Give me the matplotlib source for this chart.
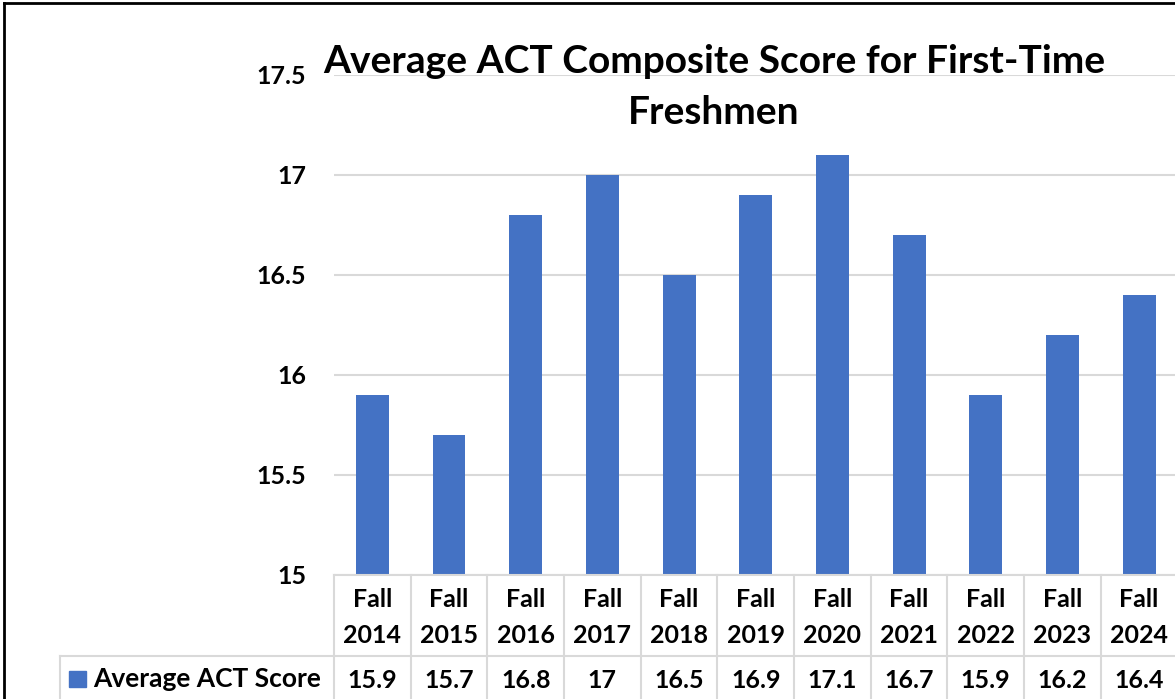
import matplotlib
matplotlib.use("Agg")
import matplotlib.pyplot as plt
from matplotlib.lines import Line2D
from matplotlib.patches import Rectangle
import matplotlib.transforms as mtransforms

# data
years = ["2014", "2015", "2016", "2017", "2018", "2019", "2020", "2021", "2022", "2023", "2024"]
scores = [15.9, 15.7, 16.8, 17.0, 16.5, 16.9, 17.1, 16.7, 15.9, 16.2, 16.4]
score_labels = ["15.9", "15.7", "16.8", "17", "16.5", "16.9", "17.1", "16.7", "15.9", "16.2", "16.4"]
series_name = "Average ACT Score"
yticks = [15, 15.5, 16, 16.5, 17, 17.5]
ytick_labels = ["15", "15.5", "16", "16.5", "17", "17.5"]
title_lines = ["Average ACT Composite Score for First-Time", "Freshmen"]

bar_color = "#4472C4"
grid_color = "#D9D9D9"
plt.rcParams["font.family"] = ["Lato", "DejaVu Sans"]
plt.rcParams["font.weight"] = "bold"

W, H = 1175, 699
fig = plt.figure(figsize=(W / 100, H / 100), dpi=100)

def fy(py):
    return (H - py) / H

x_left, x_right = 334, 1177.4
y_bot, y_top = 575, 75
ax = fig.add_axes([x_left / W, fy(y_bot), (x_right - x_left) / W, (y_bot - y_top) / H])

n = len(years)
xs = list(range(n))
ax.bar(xs, scores, width=0.43, color=bar_color, zorder=3)
ax.set_xlim(-0.5, n - 0.5)
ax.set_ylim(15, 17.5)
ax.set_yticks(yticks)
ax.set_yticklabels(ytick_labels, fontsize=18, fontweight="bold")
ax.tick_params(axis="y", length=0, pad=20)
ax.set_xticks([])
ax.grid(axis="y", color=grid_color, linewidth=1.5, zorder=0)
for s in ax.spines.values():
    s.set_visible(False)

# title, two lines
fig.text(714 / W, fy(73), title_lines[0], ha="center", va="baseline", fontsize=28, fontweight="bold")
fig.text(714 / W, fy(124), title_lines[1], ha="center", va="baseline", fontsize=28, fontweight="bold")

# data table below axes (data x, pixel y)
tr = mtransforms.blended_transform_factory(ax.transData, fig.transFigure)
row1_bot = 656
tbl_left = 60
fig.add_artist(Line2D([x_left / W, 1.0], [fy(y_bot), fy(y_bot)], color=grid_color, lw=1.5))
fig.add_artist(Line2D([tbl_left / W, 1.0], [fy(row1_bot), fy(row1_bot)], color=grid_color, lw=1.5))
fig.add_artist(Line2D([tbl_left / W, tbl_left / W], [fy(row1_bot), 0], color=grid_color, lw=1.5))
for i in range(n + 1):
    fig.add_artist(Line2D([i - 0.5, i - 0.5], [fy(y_bot), 0], transform=tr,
                          color=grid_color, lw=1.5))
for i in range(n):
    fig.text(i, fy(607), "Fall", transform=tr, ha="center", va="baseline",
             fontsize=18, fontweight="bold")
    fig.text(i, fy(643), years[i], transform=tr, ha="center", va="baseline",
             fontsize=18, fontweight="bold")
    fig.text(i, fy(688), score_labels[i], transform=tr, ha="center", va="baseline",
             fontsize=18, fontweight="bold")

fig.add_artist(Rectangle((69 / W, fy(687)), 17 / W, 16 / H, color=bar_color))
fig.text(93 / W, fy(687), series_name, ha="left", va="baseline", fontsize=19, fontweight="bold")

# outer border (top and left visible)
fig.add_artist(Line2D([4 / W, 1.0], [fy(3), fy(3)], color="black", lw=2))
fig.add_artist(Line2D([4 / W, 4 / W], [fy(3), 0], color="black", lw=2))

fig.savefig("out.png", dpi=100)
